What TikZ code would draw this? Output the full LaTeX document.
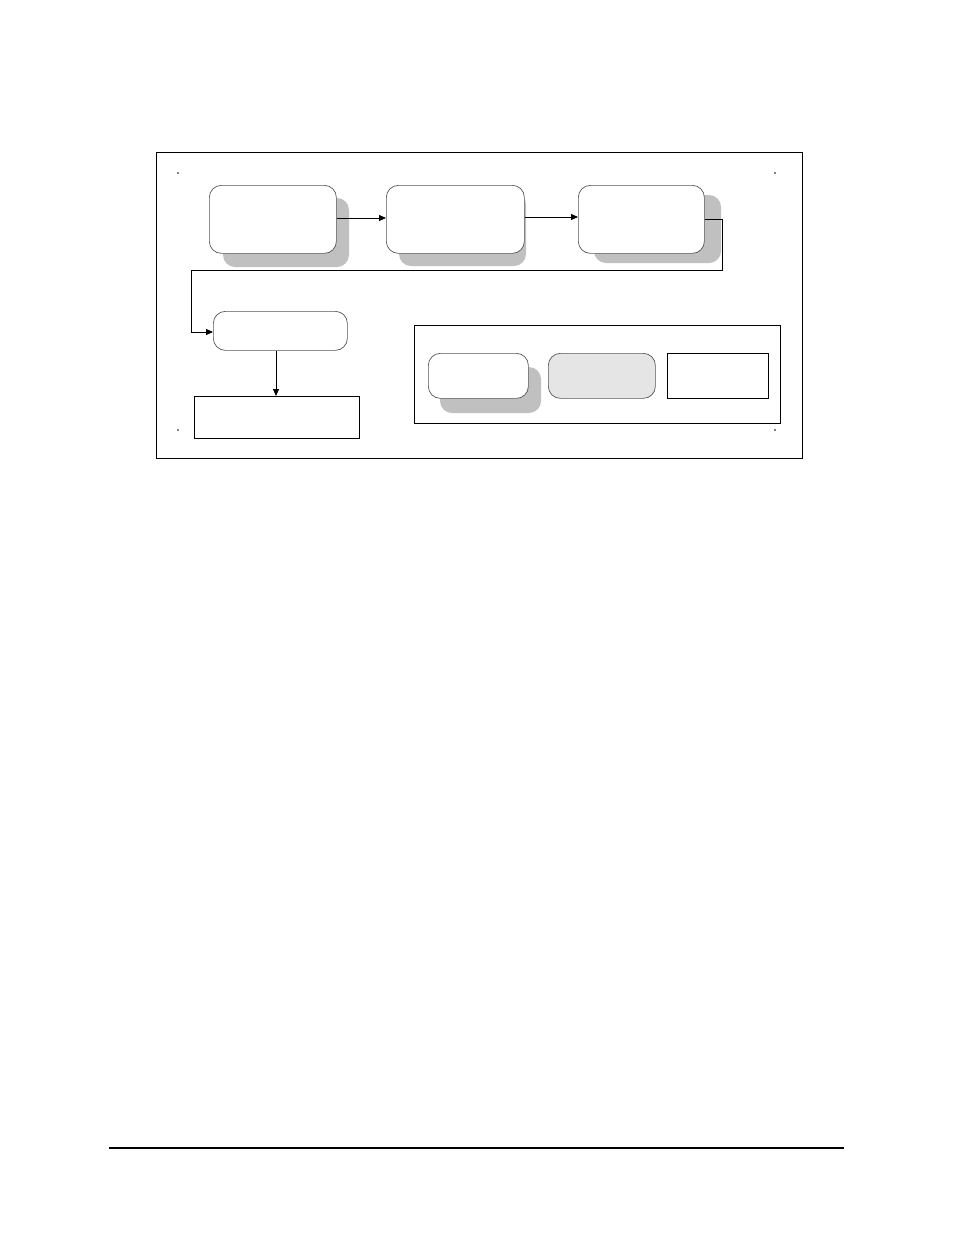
\documentclass[tikz,border=0pt]{standalone}
\usetikzlibrary{arrows.meta}
\definecolor{shadowgray}{HTML}{C0C0C0}
\definecolor{edgegray}{HTML}{555555}
\definecolor{lightfill}{HTML}{E5E5E5}
\begin{document}
\begin{tikzpicture}[x=1pt,y=-1pt,
  roundbox/.style={draw=edgegray,line width=0.7pt,fill=white,rounded corners=12pt},
  shadowbox/.style={fill=shadowgray,rounded corners=12pt},
  sharpbox/.style={draw=black,line width=0.9pt,fill=white},
  frame/.style={draw=black,line width=0.9pt},
  conn/.style={draw=black,line width=0.8pt,-{Triangle[length=7pt,width=6pt]}},
  dotmark/.style={fill=black,circle,inner sep=0pt,minimum size=1.6pt}]
\useasboundingbox (0,0) rectangle (954,1235);
% outer frame
\draw[frame] (156,152) rectangle (802,458);
% corner dots
\node[dotmark] (d1) at (178,173) {};
\node[dotmark] (d2) at (775,173) {};
\node[dotmark] (d3) at (178,430) {};
\node[dotmark] (d4) at (775,430) {};
% shadows
\fill[shadowbox] (223,198) rectangle (349,267);
\fill[shadowbox] (399,192) rectangle (526,266);
\fill[shadowbox] (594,195) rectangle (721,263);
\fill[shadowbox] (440,367) rectangle (541,413);
% process boxes
\node[roundbox,minimum width=127pt,minimum height=68pt,inner sep=0pt,anchor=north west] (b1) at (209,185) {};
\node[roundbox,minimum width=138pt,minimum height=68pt,inner sep=0pt,anchor=north west] (b2) at (386,185) {};
\node[roundbox,minimum width=126pt,minimum height=68pt,inner sep=0pt,anchor=north west] (b3) at (578,185) {};
\node[roundbox,minimum width=134pt,minimum height=39pt,inner sep=0pt,anchor=north west] (b4) at (213,311) {};
\node[sharpbox,minimum width=165pt,minimum height=42pt,inner sep=0pt,anchor=north west] (b5) at (194,396) {};
% legend
\draw[frame] (414,325) rectangle (780,423);
\node[roundbox,minimum width=100pt,minimum height=45pt,inner sep=0pt,anchor=north west] (la) at (428,353) {};
\node[roundbox,fill=lightfill,minimum width=107pt,minimum height=45pt,inner sep=0pt,anchor=north west] (lb) at (548,353) {};
\node[sharpbox,minimum width=101pt,minimum height=45pt,inner sep=0pt,anchor=north west] (lc) at (667,353) {};
% connectors
\coordinate (c1) at (722,219);
\coordinate (c2) at (722,270);
\coordinate (c3) at (191,270);
\coordinate (c4) at (191,332);
\coordinate (v1) at (276,350);
\draw[conn] (b1.east |- 0,218) -- (b2.west |- 0,218);
\draw[conn] (b2.east |- 0,217) -- (b3.west |- 0,217);
\draw[conn] (b3.east |- c1) -- (c1) -- (c2) -- (c3) -- (c4) -- (b4.west |- c4);
\draw[conn] (b4.south -| v1) -- (b5.north -| v1);
% footer rule
\draw[line width=1.2pt] (109,1148) -- (844,1148);
\end{tikzpicture}
\end{document}
